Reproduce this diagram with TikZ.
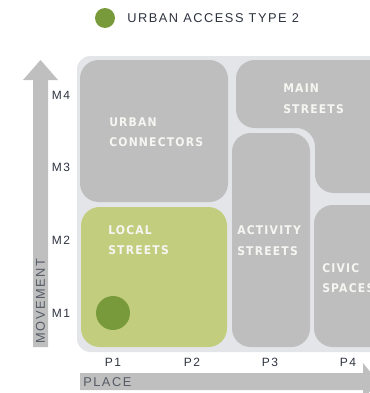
\documentclass[tikz,border=0pt]{standalone}
\usepackage{fontspec}
\setmainfont{Liberation Sans}
\newfontfamily\boxfont[LetterSpace=10]{DejaVu Sans Condensed}
\newfontfamily\lblfont[LetterSpace=12]{Liberation Sans}
\definecolor{panel}{HTML}{E3E5E9}
\definecolor{boxgray}{HTML}{BEBEBE}
\definecolor{lightgreen}{HTML}{C2CE7E}
\definecolor{darkgreen}{HTML}{789A3B}
\definecolor{arrowgray}{HTML}{BFBFBF}
\definecolor{boxtext}{HTML}{F5F5F2}
\definecolor{lbltext}{HTML}{2E3340}
\definecolor{axistext}{HTML}{555A66}
\tikzset{
  boxlbl/.style={anchor=base west, inner sep=0pt, text=boxtext, font=\boxfont\bfseries\fontsize{9}{10}\selectfont},
  scale lbl/.style={inner sep=0pt, text=lbltext, font=\lblfont\fontsize{9}{10}\selectfont},
  axis lbl/.style={inner sep=0pt, text=axistext, font=\lblfont\fontsize{9.6}{10}\selectfont},
  tile/.style={fill=boxgray, rounded corners=14pt},
}
\begin{document}
\begin{tikzpicture}[x=0.75pt,y=-0.75pt]
\useasboundingbox (0,0) rectangle (370,393);
\clip (0,0) rectangle (370,393);
% legend
\fill[darkgreen] (105,18) circle (10);
\node[axis lbl, anchor=west, text=lbltext] (legend) at (127,18) {URBAN ACCESS TYPE 2};
% background panel
\fill[panel, rounded corners=10pt] (77,56) rectangle (420,352);
% tiles
\fill[tile] (80,60) rectangle (228,202);
\fill[tile] (236,60) -- (400,60) -- (400,193) -- (315,193) -- (315,128) -- (236,128) -- cycle;
\fill[tile] (232,133) rectangle (310,347);
\fill[tile] (314,205) rectangle (400,347);
\fill[lightgreen, rounded corners=14pt] (81,207) rectangle (227,347);
\fill[darkgreen] (113,313) circle (17);
% tile labels
\node[boxlbl] (uc1) at (109,126.5) {URBAN};
\node[boxlbl] (uc2) at (109,146.5) {CONNECTORS};
\node[boxlbl] (ms1) at (283,92.5) {MAIN};
\node[boxlbl] (ms2) at (283,113.5) {STREETS};
\node[boxlbl] (ls1) at (108,234.5) {LOCAL};
\node[boxlbl] (ls2) at (108,254.5) {STREETS};
\node[boxlbl] (as1) at (237,234.5) {ACTIVITY};
\node[boxlbl] (as2) at (237,255.5) {STREETS};
\node[boxlbl] (cs1) at (322,272.5) {CIVIC};
\node[boxlbl] (cs2) at (322,292.5) {SPACES};
% axes
\fill[arrowgray] (33,347) -- (33,80) -- (23,80) -- (40.5,60) -- (58,80) -- (48,80) -- (48,347) -- cycle;
\fill[arrowgray] (80,373) -- (363,373) -- (363,363) -- (378,381.5) -- (363,400) -- (363,390) -- (80,390) -- cycle;
\node[axis lbl, rotate=90] (movement) at (40.5,301) {MOVEMENT};
\node[axis lbl, anchor=west] (place) at (83,382) {PLACE};
% scale labels
\node[scale lbl] (m4) at (61,95) {M4};
\node[scale lbl] (m3) at (61,167) {M3};
\node[scale lbl] (m2) at (61,240) {M2};
\node[scale lbl] (m1) at (61,313) {M1};
\node[scale lbl] (p1) at (113,362) {P1};
\node[scale lbl] (p2) at (192,362) {P2};
\node[scale lbl] (p3) at (270,362) {P3};
\node[scale lbl] (p4) at (348,362) {P4};
\end{tikzpicture}
\end{document}
